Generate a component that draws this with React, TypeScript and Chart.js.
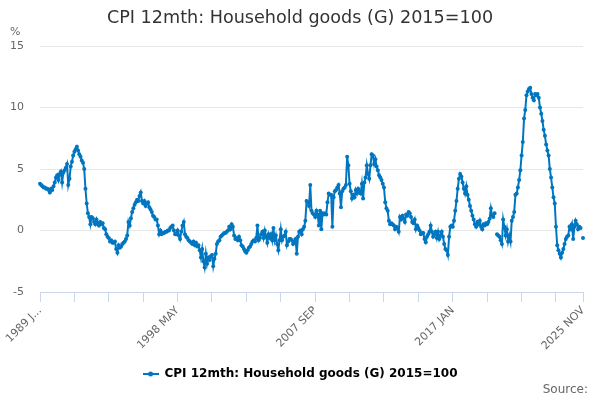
import React, { useEffect, useRef } from "react";
import { Chart, registerables } from "chart.js";

Chart.register(...registerables);

// ---- Data -------------------------------------------------------------
const MONTHS = ["JAN", "FEB", "MAR", "APR", "MAY", "JUN", "JUL", "AUG", "SEP", "OCT", "NOV", "DEC"];
const FIRST_YEAR = 1989;
const LAST_YEAR = 2025;
const LAST_MONTH = 10; // NOV

const categories: string[] = [];
for (let y = FIRST_YEAR; y <= LAST_YEAR; y++) {
  for (let m = 0; m < 12; m++) {
    if (y === LAST_YEAR && m > LAST_MONTH) break;
    categories.push(`${y} ${MONTHS[m]}`);
  }
}

const values1989to1996 = [
  3.8, 3.7, 3.6, 3.5, 3.5, 3.4, 3.4, 3.3, 3.1, 3.4, 3.3, 3.6,
  3.9, 4.3, 4.5, 4.1, 4.6, 4.8, 3.9, 4.7, 4.9, 5.1, 5.4, 3.7,
  4.2, 5.2, 5.6, 6.1, 6.4, 6.6, 6.8, 6.5, 6.2, 6.0, 5.7, 5.5,
  5.0, 3.4, 2.2, 1.4, 1.1, 0.5, 1.1, 1.0, 0.7, 0.5, 0.9, 0.6,
  0.4, 0.7, 0.5, 0.6, 0.2, 0.1, -0.3, -0.5, -0.6, -0.9, -0.8, -1.0,
  -1.0, -0.9, -1.5, -1.8, -1.2, -1.4, -1.3, -1.1, -1.0, -0.9, -0.7, -0.4,
  0.7, 0.4, 1.0, 1.5, 1.8, 2.1, 2.3, 2.5, 2.4, 2.8, 3.1, 2.4,
  2.2, 2.4, 2.0, 2.2, 2.3, 1.9, 1.7, 1.5, 1.2, 1.1, 0.9, 0.9,
];

const values1997to2004 = [
  0.4, -0.3, 0.0, -0.3, -0.2, -0.2, -0.1, -0.1, 0.0, 0.0, 0.2, 0.3,
  0.4, 0.0, -0.3, -0.3, 0.0, -0.4, -0.7, -0.1, 0.4, 0.7, -0.3, -0.5,
  -0.6, -0.8, -0.9, -1.0, -1.1, -0.9, -1.2, -1.0, -1.3, -1.2, -1.6, -2.2,
  -1.5, -2.5, -3.0, -1.9, -2.7, -2.2, -2.4, -2.1, -2.0, -2.9, -2.3, -1.9,
  -1.1, -0.9, -0.8, -0.5, -0.4, -0.3, -0.2, -0.2, -0.1, 0.0, 0.3, 0.1,
  0.5, 0.3, -0.4, -0.7, -0.6, -0.8, -0.5, -0.8, -1.2, -1.3, -1.5, -1.7,
  -1.8, -1.6, -1.4, -1.3, -1.1, -0.9, -0.8, -0.9, -0.6, 0.4, -0.8, -0.6,
  -0.3, -0.1, -0.6, 0.0, -0.5, -1.0, -0.3, -0.6, -0.3, -0.8, 0.2, -0.8,
];

const values2005to2012 = [
  -0.4, -1.1, -1.6, -0.8, 0.1, -0.8, -0.5, -0.4, -0.1, -1.2, -0.9, -0.7,
  -0.7, -0.8, -1.1, -0.9, -0.7, -1.9, -0.5, -0.1, 0.0, -0.3, 0.1, 0.3,
  0.8, 2.4, 2.3, 2.0, 3.7, 1.6, 1.4, 1.3, 1.1, 1.6, 1.3, 0.4,
  1.6, 0.1, 1.4, 1.3, 1.4, 1.3, 2.3, 3.0, 2.9, 2.9, 0.3, 2.7,
  3.2, 3.3, 3.5, 3.7, 3.0, 1.9, 3.2, 3.4, 3.5, 3.7, 6.0, 5.3,
  3.8, 3.2, 2.6, 2.9, 2.7, 3.3, 3.0, 3.4, 3.2, 3.0, 3.8, 2.6,
  3.9, 4.3, 5.3, 4.6, 4.2, 5.3, 6.2, 6.1, 5.4, 5.8, 5.2, 4.9,
  4.5, 4.3, 4.1, 3.8, 3.5, 2.3, 1.8, 1.6, 0.8, 0.5, 0.6, 0.5,
];

const values2013to2019 = [
  0.4, 0.1, 0.3, 0.2, -0.1, 1.1, 0.9, 1.2, 1.0, 0.7, 1.3, 1.2,
  1.5, 1.4, 1.1, 0.7, 0.6, 0.9, 0.1, 0.4, 0.2, 0.0, -0.3, -0.2,
  -0.2, -0.7, -0.95, -0.5, -0.3, -0.1, 0.4, -0.1, -0.5, -0.3, -0.1, -0.6,
  -0.1, -0.7, -0.4, -0.1, -0.5, -1.1, -1.5, -1.6, -2.0, -0.5, 0.3, 0.4,
  0.3, 0.8, 1.6, 2.4, 3.4, 4.2, 4.6, 4.4, 3.9, 3.4, 3.0, 3.6,
  2.9, 2.5, 2.0, 1.6, 1.2, 0.9, 0.5, 0.3, 0.7, 0.5, 0.8, 0.3,
  0.1, 0.5, 0.4, 0.6, 0.5, 0.7, 0.95, 1.8, 1.2, 1.1, 1.4, null,
];

const values2020to2025 = [
  -0.3, -0.4, -0.5, -0.8, -1.1, 0.9, 0.3, -0.4, 0.1, -0.9, -0.4, -0.9,
  0.8, 1.1, 1.5, 2.9, 3.0, 3.5, 4.1, 4.9, 6.1, 7.2, 9.1, 9.8,
  11.0, 11.3, 11.5, 11.6, 11.1, 10.8, 10.6, 11.1, 11.0, 11.1, 10.8, 10.0,
  9.5, 8.9, 8.2, 7.7, 7.0, 6.5, 6.1, 5.0, 4.3, 3.5, 2.7, 2.2,
  0.3, -1.2, -1.6, -1.9, -2.2, -1.8, -1.5, -1.1, -0.7, -0.5, -0.4, 0.3,
  0.1, 0.5, -0.7, 0.3, 0.8, 0.5, 0.1, 0.3, 0.2, null, -0.6,
];

const householdGoods: (number | null)[] = [
  ...values1989to1996,
  ...values1997to2004,
  ...values2005to2012,
  ...values2013to2019,
  ...values2020to2025,
];

const tickLabelIndexes = [0, 112, 224, 336, 442];
const tickLabels = ["1989 J...", "1998 MAY", "2007 SEP", "2017 JAN", "2025 NOV"];
const TICK_MARK_STEP = 28;

const TITLE = "CPI 12mth: Household goods (G) 2015=100";
const SERIES_NAME = "CPI 12mth: Household goods (G) 2015=100";

// ---- Styles -------------------------------------------------------------
const FONT = "DejaVu Sans";
const LINE_COLOR = "#0076c0";
const AXIS_COLOR = "#ccd6eb";
const GRID_COLOR = "#e6e6e6";

function makeLegendSymbol(): HTMLCanvasElement {
  const c = document.createElement("canvas");
  c.width = 16;
  c.height = 8;
  const ctx = c.getContext("2d")!;
  ctx.strokeStyle = LINE_COLOR;
  ctx.lineWidth = 2;
  ctx.beginPath();
  ctx.moveTo(0, 4);
  ctx.lineTo(16, 4);
  ctx.stroke();
  ctx.fillStyle = LINE_COLOR;
  ctx.beginPath();
  ctx.arc(8, 4, 2.5, 0, Math.PI * 2);
  ctx.fill();
  return c;
}

const extraText = {
  id: "extraText",
  afterDraw(chart: any) {
    const ctx = chart.ctx;
    ctx.save();
    ctx.fillStyle = "#666666";
    ctx.font = `11px "${FONT}"`;
    ctx.textAlign = "left";
    ctx.textBaseline = "middle";
    ctx.fillText("%", 10, 32);
    ctx.font = `12px "${FONT}"`;
    ctx.textAlign = "right";
    ctx.fillText("Source:", 588, 390);
    ctx.restore();
  },
};

export default function App() {
  const canvasRef = useRef<HTMLCanvasElement | null>(null);

  useEffect(() => {
    document.body.style.margin = "0";
    const canvas = canvasRef.current;
    if (!canvas) return;
    const symbol = makeLegendSymbol();
    const lastIndex = categories.length - 1;
    const showTick = (i: number) => i % TICK_MARK_STEP === 0 || i === lastIndex;

    const chart = new Chart(canvas, {
      type: "line",
      data: {
        labels: categories,
        datasets: [
          {
            label: SERIES_NAME,
            data: householdGoods,
            borderColor: LINE_COLOR,
            backgroundColor: LINE_COLOR,
            borderWidth: 2,
            pointRadius: 2,
            pointHoverRadius: 0,
            pointBorderWidth: 0,
            pointBackgroundColor: LINE_COLOR,
            tension: 0,
            spanGaps: false,
          },
        ],
      },
      options: {
        responsive: false,
        animation: false,
        layout: { padding: { top: 0, right: 0, bottom: 10, left: 0 } },
        plugins: {
          title: {
            display: true,
            text: TITLE,
            color: "#333333",
            font: { family: FONT, size: 17.6, weight: "normal" },
            padding: { top: 7.4, bottom: 17.5 },
          },
          legend: {
            display: true,
            position: "bottom",
            labels: {
              usePointStyle: true,
              pointStyleWidth: 16,
              padding: 10,
              color: "#333333",
              font: { family: FONT, size: 12, weight: "bold" },
              generateLabels: () => [
                {
                  text: SERIES_NAME,
                  pointStyle: symbol,
                  fillStyle: LINE_COLOR,
                  strokeStyle: LINE_COLOR,
                  lineWidth: 0,
                  hidden: false,
                  datasetIndex: 0,
                },
              ],
            },
          },
          tooltip: { enabled: false },
        },
        scales: {
          x: {
            type: "category",
            offset: false,
            afterFit: (scale: any) => {
              scale.height = 66;
            },
            grid: {
              drawOnChartArea: false,
              drawTicks: true,
              tickLength: 10,
              color: (ctx: any) => (showTick(ctx.index) ? AXIS_COLOR : "rgba(0,0,0,0)"),
              tickColor: (ctx: any) => (showTick(ctx.index) ? AXIS_COLOR : "rgba(0,0,0,0)"),
            },
            border: { display: true, color: AXIS_COLOR, width: 1 },
            ticks: {
              autoSkip: false,
              maxRotation: 45,
              minRotation: 45,
              padding: 2,
              color: "#666666",
              font: { family: FONT, size: 11 },
              callback: (_v: any, index: number) => {
                const k = tickLabelIndexes.indexOf(index);
                return k >= 0 ? tickLabels[k] : "";
              },
            },
          },
          y: {
            min: -5,
            max: 15,
            afterFit: (scale: any) => {
              scale.width = 40;
            },
            grid: { color: GRID_COLOR, drawTicks: false, lineWidth: 1 },
            border: { display: false },
            ticks: {
              stepSize: 5,
              padding: 16,
              color: "#666666",
              font: { family: FONT, size: 11 },
            },
          },
          rightSpace: {
            type: "linear",
            position: "right",
            display: true,
            afterFit: (scale: any) => {
              scale.width = 17;
            },
            grid: { display: false, drawTicks: false },
            border: { display: false },
            ticks: { display: false },
          },
        },
      },
      plugins: [extraText],
    });

    return () => chart.destroy();
  }, []);

  return (
    <div style={{ width: 600, height: 400 }}>
      <canvas ref={canvasRef} width={600} height={400} style={{ width: 600, height: 400, display: "block" }} />
    </div>
  );
}
